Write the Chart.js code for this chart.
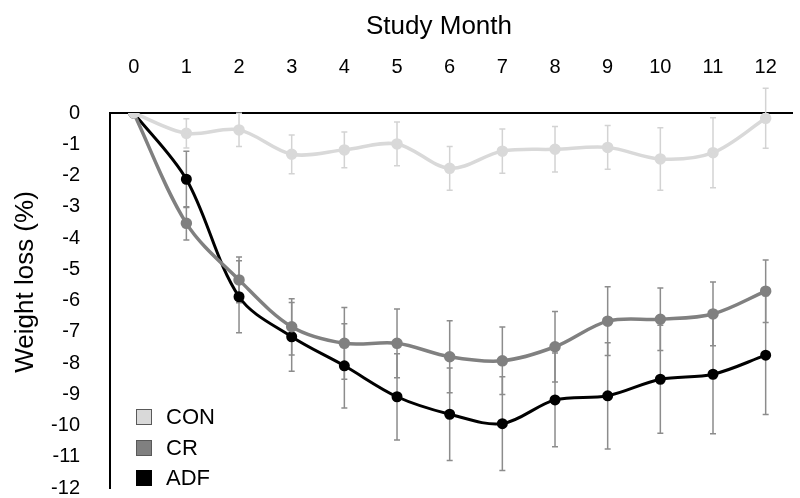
<!DOCTYPE html>
<html>
<head>
<meta charset="utf-8">
<script src="https://cdn.jsdelivr.net/npm/chart.js@4"></script>
<style>
  html, body { margin: 0; padding: 0; background: #fff; }
</style>
</head>
<body>
<canvas id="weightChart" width="800" height="498"></canvas>
<script>
const months = [0, 1, 2, 3, 4, 5, 6, 7, 8, 9, 10, 11, 12];
const yTicks = [0, -1, -2, -3, -4, -5, -6, -7, -8, -9, -10, -11, -12];

const conMean = [0, -0.65, -0.54, -1.32, -1.18, -0.99, -1.77, -1.22, -1.16, -1.10, -1.47, -1.27, -0.17];
const conErr  = [0, 0.47, 0.53, 0.62, 0.57, 0.70, 0.70, 0.71, 0.73, 0.70, 1.00, 1.12, 0.96];
const crMean  = [0, -3.53, -5.34, -6.84, -7.37, -7.37, -7.80, -7.93, -7.48, -6.66, -6.60, -6.43, -5.70];
const crErr   = [0, 0.53, 0.73, 0.90, 1.15, 1.10, 1.15, 1.08, 1.13, 1.10, 1.00, 1.02, 1.00];
const adfMean = [0, -2.12, -5.88, -7.16, -8.09, -9.08, -9.64, -9.94, -9.18, -9.05, -8.52, -8.36, -7.75];
const adfErr  = [0, 0.90, 1.15, 1.10, 1.35, 1.38, 1.48, 1.50, 1.50, 1.70, 1.73, 1.90, 1.90];

const FONT = '"Liberation Sans", Arial, sans-serif';

function toPoints(vals) {
  return vals.map((v, i) => ({ x: months[i], y: v }));
}

// vertical error bars with caps, drawn under the lines
const errorBars = {
  id: 'errorBars',
  beforeDatasetsDraw(chart) {
    const ctx = chart.ctx;
    const xs = chart.scales.x, ys = chart.scales.y;
    chart.data.datasets.forEach((ds) => {
      if (!ds.errors) return;
      ctx.save();
      ctx.strokeStyle = ds.errorColor;
      ctx.lineWidth = 1.5;
      ds.data.forEach((p, i) => {
        const e = ds.errors[i];
        if (!e) return;
        const x = xs.getPixelForValue(p.x);
        const y1 = ys.getPixelForValue(p.y + e);
        const y2 = ys.getPixelForValue(p.y - e);
        ctx.beginPath();
        ctx.moveTo(x, y1); ctx.lineTo(x, y2);
        ctx.moveTo(x - 3, y1); ctx.lineTo(x + 3, y1);
        ctx.moveTo(x - 3, y2); ctx.lineTo(x + 3, y2);
        ctx.stroke();
      });
      ctx.restore();
    });
  }
};

// axis titles and legend inside the plot
const extras = {
  id: 'extras',
  afterDraw(chart) {
    const ctx = chart.ctx;
    ctx.save();
    ctx.fillStyle = '#000';
    ctx.textAlign = 'center';
    ctx.textBaseline = 'middle';
    ctx.font = '26px ' + FONT;
    ctx.fillText('Study Month', 439, 27);

    ctx.save();
    ctx.translate(26, 282);
    ctx.rotate(-Math.PI / 2);
    ctx.fillText('Weight loss (%)', 0, 0);
    ctx.restore();

    const items = chart.data.datasets;
    const rows = [417, 448, 478];
    ctx.font = '22px ' + FONT;
    ctx.textAlign = 'left';
    items.forEach((ds, i) => {
      const y = rows[i];
      ctx.fillStyle = ds.borderColor;
      ctx.fillRect(136, y - 8, 16, 16);
      ctx.strokeStyle = i === 2 ? '#000' : '#595959';
      ctx.lineWidth = 1;
      ctx.strokeRect(136.5, y - 7.5, 15, 15);
      ctx.fillStyle = '#000';
      ctx.fillText(ds.label, 166, y + 1);
    });
    ctx.restore();
  }
};

new Chart(document.getElementById('weightChart').getContext('2d'), {
  type: 'line',
  data: {
    datasets: [
      {
        label: 'CON',
        data: toPoints(conMean),
        errors: conErr,
        errorColor: '#d3d3d3',
        borderColor: '#d9d9d9',
        backgroundColor: '#d9d9d9',
        borderWidth: 3.5,
        pointRadius: 4,
        tension: 0.33
      },
      {
        label: 'CR',
        data: toPoints(crMean),
        errors: crErr,
        errorColor: '#8c8c8c',
        borderColor: '#808080',
        backgroundColor: '#808080',
        borderWidth: 3.5,
        pointRadius: 4,
        tension: 0.33
      },
      {
        label: 'ADF',
        data: toPoints(adfMean),
        errors: adfErr,
        errorColor: '#8c8c8c',
        borderColor: '#000000',
        backgroundColor: '#000000',
        borderWidth: 3,
        pointRadius: 4,
        tension: 0.33
      }
    ]
  },
  options: {
    responsive: false,
    animation: false,
    layout: { padding: { top: 0, left: 0, right: 8, bottom: 10 } },
    plugins: {
      legend: { display: false },
      tooltip: { enabled: false }
    },
    scales: {
      x: {
        type: 'linear',
        position: 'top',
        min: -0.45,
        max: 12.5,
        afterBuildTicks: (scale) => { scale.ticks = months.map(v => ({ value: v })); },
        afterFit: (scale) => {
          scale.height = 113;
          scale.paddingLeft = 0;
          scale.paddingRight = 0;
        },
        grid: { display: false },
        border: { display: true, color: '#000', width: 2 },
        ticks: {
          padding: 26,
          color: '#000',
          font: { family: FONT, size: 20 },
          maxRotation: 0,
          autoSkip: false
        }
      },
      y: {
        type: 'linear',
        min: -12,
        max: 0,
        afterBuildTicks: (scale) => { scale.ticks = yTicks.map(v => ({ value: v })); },
        afterFit: (scale) => {
          scale.width = 110;
          scale.paddingTop = 0;
          scale.paddingBottom = 0;
        },
        grid: { display: false },
        border: { display: true, color: '#000', width: 2 },
        ticks: {
          padding: 22,
          color: '#000',
          font: { family: FONT, size: 20 },
          autoSkip: false
        }
      }
    }
  },
  plugins: [errorBars, extras]
});
</script>
</body>
</html>
